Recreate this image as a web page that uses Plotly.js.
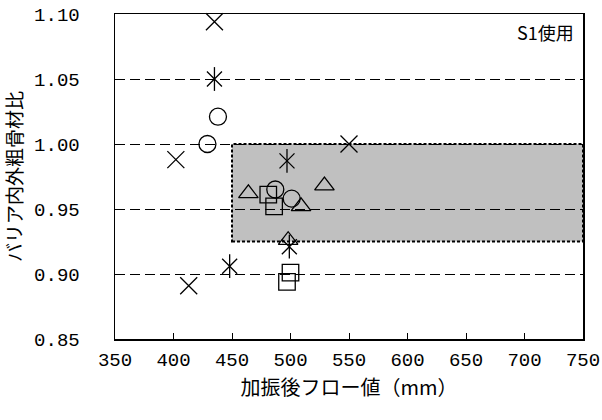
<!DOCTYPE html>
<html>
<head>
<meta charset="utf-8">
<script src="https://cdn.plot.ly/plotly-3.0.1.min.js"></script>
<style>html,body{margin:0;padding:0;background:#fff;}#chart{width:602px;height:420px;}</style>
</head>
<body>
<div id="chart"></div>
<script>
// 加振後フロー値 (mm) と バリア内外粗骨材比
const crossX = [435, 402, 413, 550];
const crossY = [1.094, 0.988, 0.891, 1.000];
const starX = [435, 497, 499, 448];
const starY = [1.050, 0.987, 0.921, 0.906];
const circleX = [438, 429, 487, 501];
const circleY = [1.021, 1.000, 0.965, 0.958];
const triX = [464, 509, 529, 498];
const triY = [0.962, 0.952, 0.968, 0.926];
const squareX = [481, 486, 500, 497];
const squareY = [0.961, 0.952, 0.901, 0.894];
const targetX = [450, 750];
const targetY = [0.925, 1.000];
const xTicks = [350, 400, 450, 500, 550, 600, 650, 700, 750];
const yTicks = [0.85, 0.90, 0.95, 1.00, 1.05, 1.10];

function tr(x, y, sym, size) {
  return {x: x, y: y, type: 'scatter', mode: 'markers', hoverinfo: 'skip', cliponaxis: false,
    marker: {symbol: sym, size: size, color: '#000', line: {color: '#000', width: 1.3}}};
}
const data = [
  tr(crossX, crossY, 'x-thin-open', 17),
  tr(starX, starY, 'x-thin-open', 15),
  tr(starX, starY, 'line-ns-open', 17),
  tr(circleX, circleY, 'circle-open', 17),
  tr(triX, triY, 'triangle-up-open', 17),
  tr(squareX, squareY, 'square-open', 16.5)
];
const tickFont = {family: 'Liberation Mono, DejaVu Sans Mono, monospace', size: 19, color: '#000'};
const cjk = 'Noto Sans CJK JP, sans-serif';
const layout = {
  width: 602, height: 420,
  margin: {l: 115, r: 19, t: 14, b: 81},
  paper_bgcolor: '#fff', plot_bgcolor: '#fff',
  showlegend: false,
  xaxis: {
    range: [xTicks[0], xTicks[xTicks.length - 1]], tickvals: xTicks, ticktext: xTicks.map(String),
    ticks: 'inside', ticklen: 6, tickcolor: '#000', tickwidth: 1,
    showgrid: false, zeroline: false,
    showline: true, linecolor: '#000', linewidth: 1.5, mirror: true,
    tickfont: tickFont, ticklabelstandoff: 3,
    title: {text: '加振後フロー値（mm）', font: {family: cjk, size: 20, color: '#000'}, standoff: 6}
  },
  yaxis: {
    range: [yTicks[0], yTicks[yTicks.length - 1]], tickvals: yTicks, ticktext: yTicks.map(v => v.toFixed(2)),
    ticks: '', showgrid: true, gridcolor: '#000', gridwidth: 1, griddash: '10px,5px',
    zeroline: false, showline: true, linecolor: '#000', linewidth: 1.5, mirror: true,
    tickfont: tickFont, ticklabelstandoff: 30,
    title: {text: 'バリア内外粗骨材比', font: {family: cjk, size: 19, color: '#000'}, standoff: 6}
  },
  shapes: [{
    type: 'rect', xref: 'x', yref: 'y', layer: 'below',
    x0: targetX[0], x1: targetX[1], y0: targetY[0], y1: targetY[1],
    fillcolor: '#c0c0c0', line: {color: '#000', width: 2, dash: '3px,2px'}
  }],
  annotations: [{
    xref: 'paper', yref: 'paper', x: 0.985, y: 0.99, xanchor: 'right', yanchor: 'top',
    text: 'S1使用', showarrow: false, font: {family: cjk, size: 18, color: '#000'}
  }]
};
Plotly.newPlot('chart', data, layout, {staticPlot: true});
</script>
</body>
</html>
